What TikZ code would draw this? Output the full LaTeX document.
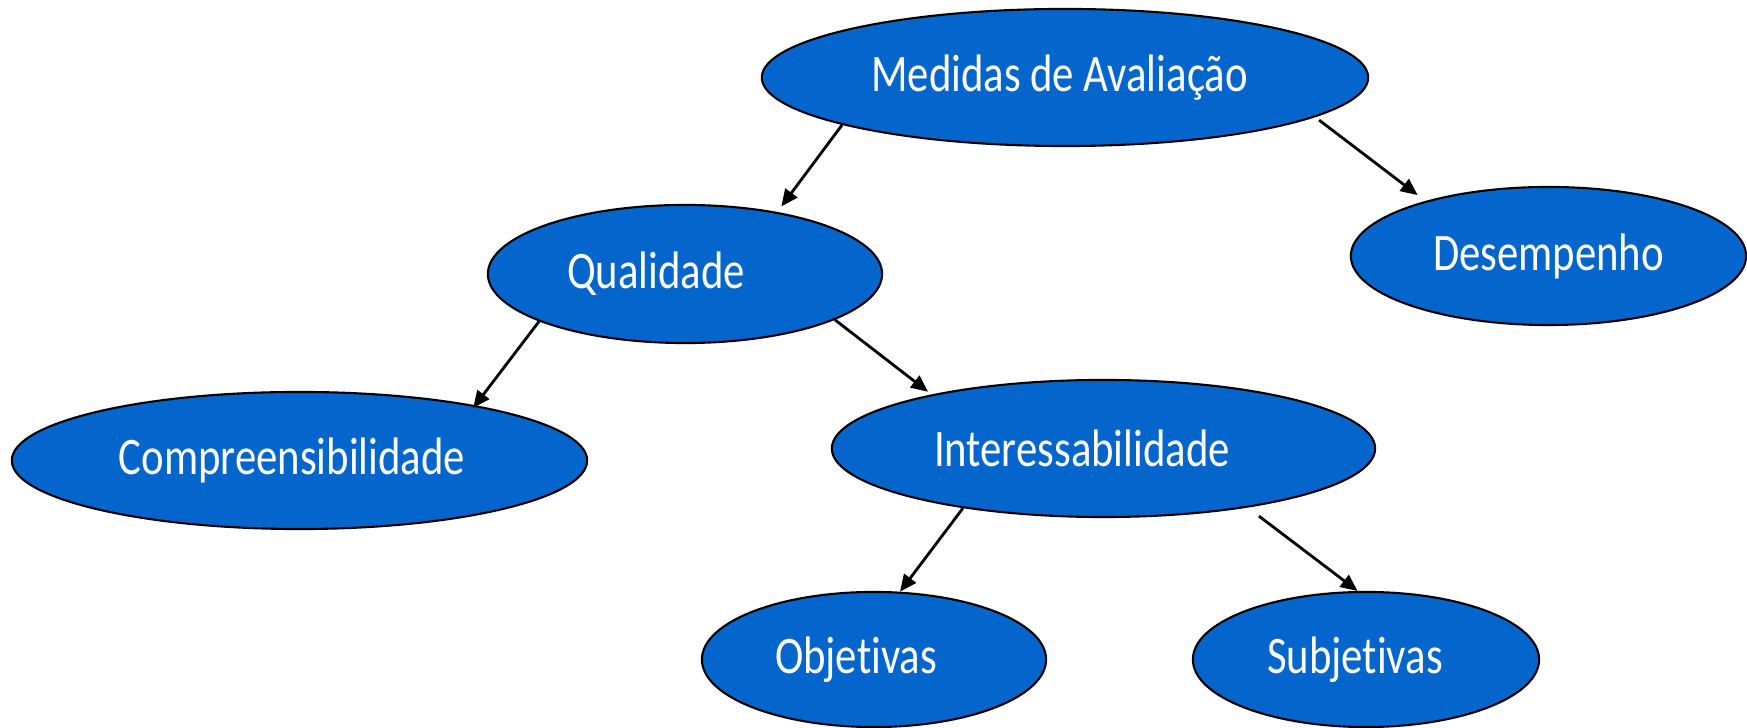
\documentclass[tikz,border=0pt]{standalone}
\usepackage{fontspec}
\setmainfont{Carlito}[FakeStretch=0.81,Ligatures=NoCommon]
\usetikzlibrary{shapes.geometric,arrows.meta}
\definecolor{ovalblue}{RGB}{4,102,204}
\tikzset{
  oval/.style={ellipse,draw=black,line width=0.6pt,fill=ovalblue,inner sep=0pt,text=white},
  lbl/.style={text=white,font=\fontsize{15}{18}\selectfont},
  link/.style={line width=0.8pt,-{Triangle[length=4.8pt,width=4.2pt]}}
}
\begin{document}
\begin{tikzpicture}[x=0.01cm,y=-0.01cm]
\useasboundingbox (0,0) rectangle (1747,728);
\node[oval,minimum width=6.06cm,minimum height=1.37cm,
  label={[lbl,xshift=-0.055cm]center:Medidas de Avaliação}] (med) at (1065,77.5) {};
\node[oval,minimum width=3.95cm,minimum height=1.38cm,
  label={[lbl]center:Desempenho}] (des) at (1548.5,256) {};
\node[oval,minimum width=3.94cm,minimum height=1.38cm,
  label={[lbl,xshift=-0.29cm]center:Qualidade}] (qua) at (685,274) {};
\node[oval,minimum width=5.75cm,minimum height=1.37cm,
  label={[lbl,xshift=-0.075cm]center:Compreensibilidade}] (com) at (299.5,460.5) {};
\node[oval,minimum width=5.43cm,minimum height=1.37cm,
  label={[lbl,xshift=-0.215cm]center:Interessabilidade}] (int) at (1103.5,448.5) {};
\node[oval,minimum width=3.44cm,minimum height=1.35cm,
  label={[lbl,xshift=-0.18cm]center:Objetivas}] (obj) at (874,659.5) {};
\node[oval,minimum width=3.46cm,minimum height=1.35cm,
  label={[lbl,xshift=-0.11cm]center:Subjetivas}] (sub) at (1366,659.5) {};
\draw[link] (med.-168.5) -- ([shift={(7,-5)}]qua.35.5);
\draw[link] ([shift={(4,3)}]med.-9.7) -- ([shift={(-11,-5)}]des.155.5);
\draw[link] (qua.-162.7) -- ([shift={(-5,2)}]com.17.9);
\draw[link] (qua.-17.2) -- ([shift={(-7,-2)}]int.162);
\draw[link] (int.-157.25) -- (obj.69);
\draw[link] ([shift={(15,8)}]int.-23.6) -- (sub.97.7);
\end{tikzpicture}
\end{document}
